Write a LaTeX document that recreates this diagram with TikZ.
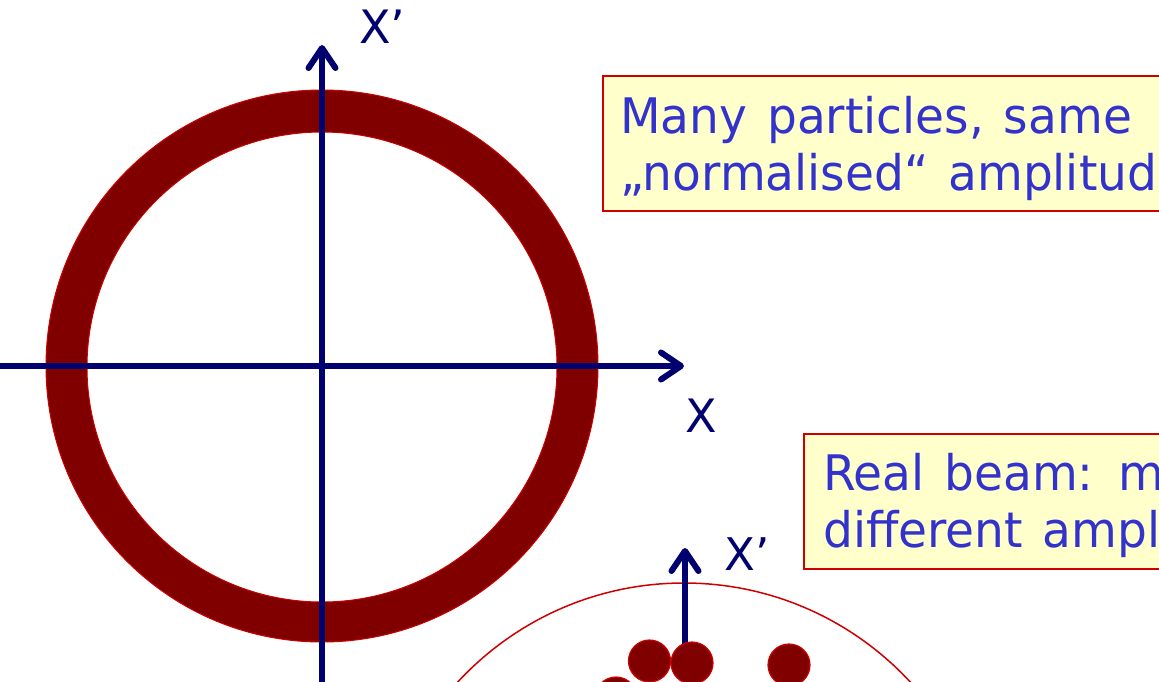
\documentclass[tikz,border=0pt]{standalone}
\usepackage{fontspec}
\setmainfont{DejaVu Sans}
\newfontfamily\notefont{DejaVu Sans}[FakeStretch=0.96,WordSpace=1.33]
\usetikzlibrary{arrows.meta}
\definecolor{navyax}{RGB}{0,0,110}
\definecolor{ringred}{RGB}{128,0,0}
\definecolor{edgered}{RGB}{204,0,0}
\definecolor{boxyellow}{RGB}{255,255,204}
\definecolor{textblue}{RGB}{51,51,204}
\tikzset{
  axis/.style={draw=navyax, line width=6pt, line cap=round,
    -{Straight Barb[length=20pt,width=27pt,round]}},
  axlabel/.style={text=navyax, font=\fontsize{46}{50}\selectfont, inner sep=0pt, anchor=base west},
  notebox/.style={draw=edgered, line width=1.5pt, fill=boxyellow, anchor=north west, inner sep=0pt},
  notetext/.style={text=textblue, font=\notefont\fontsize{49}{57}\selectfont, inner sep=0pt, anchor=base west},
  particle/.style={circle, fill=ringred, draw=edgered, line width=1.2pt, inner sep=0pt, minimum size=42pt},
}
\begin{document}
\begin{tikzpicture}[x=1pt,y=-1pt]
\useasboundingbox (0,0) rectangle (1159,681);
\clip (0,0) rectangle (1159,681);
% big ring
\fill[ringred, even odd rule] (322,366) circle[radius=276pt] (322,367) circle[radius=235pt];
\draw[edgered, line width=1pt] (322,366) circle[radius=276pt];
\draw[edgered, line width=1pt] (322,367) circle[radius=235pt];
% axes
\coordinate (xl) at (-5,366);
\coordinate (xr) at (684,366);
\coordinate (yb) at (322,690);
\coordinate (yt) at (322,45);
\draw[axis] (xl) -- (xr);
\draw[axis] (yb) -- (yt);
\node[axlabel] (lx) at (685,432) {X};
\node[axlabel] (lxp) at (359,43) {X’};
% box 1
\node[notebox, minimum width=700pt, minimum height=135pt] (box1) at (602,75) {};
\node[notetext] (t1a) at (620,133) {Many particles, same};
\node[notetext] (t1b) at (620,190) {„normalised“ amplitude};
% box 2
\node[notebox, minimum width=500pt, minimum height=135pt] (box2) at (803,433) {};
\node[notetext] (t2a) at (823,490) {Real beam: many};
\node[notetext] (t2b) at (823,547) {different amplitudes};
% small phase space
\draw[edgered, line width=1.5pt] (684,891) circle[radius=308pt];
\coordinate (sb) at (685,690);
\coordinate (st) at (685,548);
\draw[axis] (sb) -- (st);
\node[axlabel, font=\fontsize{45}{50}\selectfont] (lsp) at (724,570) {X’};
\node[particle] (p1) at (649.5,661) {};
\node[particle] (p2) at (692,663) {};
\node[particle] (p3) at (789,665) {};
\node[particle] (p4) at (616,698) {};
\end{tikzpicture}
\end{document}
